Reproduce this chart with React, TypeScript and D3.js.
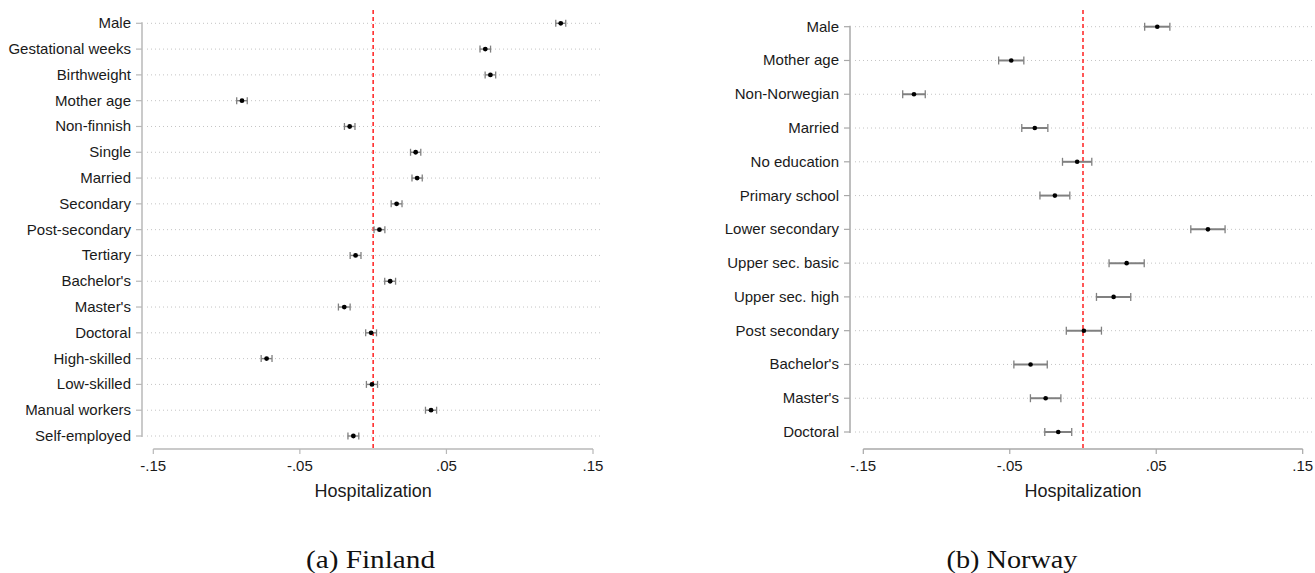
import React from "react";
import * as d3 from "d3";

const finCats = ["Male","Gestational weeks","Birthweight","Mother age","Non-finnish","Single","Married","Secondary","Post-secondary","Tertiary","Bachelor's","Master's","Doctoral","High-skilled","Low-skilled","Manual workers","Self-employed"];
const finEst = [0.128, 0.0765, 0.080, -0.0895, -0.016, 0.029, 0.030, 0.016, 0.0043, -0.012, 0.0116, -0.0197, -0.0014, -0.0727, -0.0008, 0.0395, -0.0135];
const finCI = [0.0034, 0.0036, 0.0036, 0.0036, 0.0036, 0.0035, 0.0035, 0.0037, 0.0037, 0.0037, 0.0037, 0.0040, 0.0037, 0.0037, 0.0038, 0.0038, 0.0037];

const norCats = ["Male","Mother age","Non-Norwegian","Married","No education","Primary school","Lower secondary","Upper sec. basic","Upper sec. high","Post secondary","Bachelor's","Master's","Doctoral"];
const norEst = [0.0507, -0.049, -0.1154, -0.0329, -0.004, -0.0192, 0.0853, 0.0298, 0.0209, 0.0006, -0.0358, -0.0255, -0.0169];
const norCI = [0.0086, 0.0086, 0.0077, 0.0089, 0.0100, 0.0102, 0.0117, 0.0120, 0.0117, 0.0120, 0.0114, 0.0104, 0.0092];

const xTicks = [-0.15, -0.05, 0.05, 0.15];
const tickFmt = (v: number) => (v < 0 ? "-" : "") + d3.format(".2f")(Math.abs(v)).replace(/^0/, "");

const FONT = "'Liberation Sans', Arial, sans-serif";
const TXT = "#1a1a1a";

type PanelProps = {
  cats: string[]; est: number[]; ci: number[];
  x0: number; x1: number; yTop: number; yBot: number;
  axisX: number; gridEnd: number; axisColor: string;
  ciWidth: number; capH: number; dotR: number;
  caption: string; capX: number; capLen: number;
};

function Panel(p: PanelProps) {
  const x = d3.scaleLinear().domain([-0.15, 0.15]).range([p.x0, p.x1]);
  const y = d3.scalePoint<string>().domain(p.cats).range([p.yTop, p.yBot]);
  const axisY = 449;
  return (
    <g>
      {/* gridlines */}
      {p.cats.map((c) => (
        <line key={"g" + c} x1={p.axisX + 5} x2={p.gridEnd} y1={y(c)} y2={y(c)}
          stroke="#c4c4c4" strokeWidth={1} strokeDasharray="1,3" />
      ))}
      {/* y axis */}
      <line x1={p.axisX} x2={p.axisX} y1={p.yTop - 1} y2={p.yBot + 1} stroke={p.axisColor} strokeWidth={1.5} />
      {p.cats.map((c) => (
        <g key={"t" + c}>
          <line x1={p.axisX - 6} x2={p.axisX} y1={y(c)} y2={y(c)} stroke={p.axisColor} strokeWidth={1.2} />
          <text x={p.axisX - 11} y={(y(c) as number) + 5} textAnchor="end" fontSize={15} fontFamily={FONT} fill={TXT}>{c}</text>
        </g>
      ))}
      {/* x axis */}
      <line x1={x(-0.15)} x2={x(0.15)} y1={axisY} y2={axisY} stroke={p.axisColor} strokeWidth={1.5} />
      {xTicks.map((t) => (
        <g key={"x" + t}>
          <line x1={x(t)} x2={x(t)} y1={axisY} y2={axisY + 5} stroke={p.axisColor} strokeWidth={1.2} />
          <text x={x(t)} y={471} textAnchor="middle" fontSize={15} fontFamily={FONT} fill={TXT}>{tickFmt(t)}</text>
        </g>
      ))}
      <text x={x(0)} y={497} textAnchor="middle" fontSize={18} fontFamily={FONT} fill={TXT}>Hospitalization</text>
      {/* zero line */}
      <line x1={x(0)} x2={x(0)} y1={10} y2={axisY} stroke="#ff2020" strokeWidth={1.5} strokeDasharray="4,3" />
      {/* estimates */}
      {p.cats.map((c, i) => {
        const yy = y(c) as number;
        const lo = x(p.est[i] - p.ci[i]);
        const hi = x(p.est[i] + p.ci[i]);
        return (
          <g key={"e" + c}>
            <line x1={lo} x2={hi} y1={yy} y2={yy} stroke="#808080" strokeWidth={p.ciWidth} />
            <line x1={lo} x2={lo} y1={yy - p.capH / 2} y2={yy + p.capH / 2} stroke="#808080" strokeWidth={1.3} />
            <line x1={hi} x2={hi} y1={yy - p.capH / 2} y2={yy + p.capH / 2} stroke="#808080" strokeWidth={1.3} />
            <circle cx={x(p.est[i])} cy={yy} r={p.dotR} fill="#000" />
          </g>
        );
      })}
      <text x={p.capX} y={568} textAnchor="middle" fontSize={26} fontFamily="'Liberation Serif', 'Times New Roman', serif"
        fill="#111" textLength={p.capLen} lengthAdjust="spacingAndGlyphs">{p.caption}</text>
    </g>
  );
}

export default function App() {
  return (
    <svg width={1315} height={573} style={{ position: "absolute", left: 0, top: 0, background: "#fff" }}>
      <rect x={0} y={0} width={1315} height={573} fill="#fff" />
      <Panel cats={finCats} est={finEst} ci={finCI} x0={153.3} x1={593} yTop={23.3} yBot={436}
        axisX={142} gridEnd={601} axisColor="#b8b8b8" ciWidth={1.4} capH={7} dotR={2.4}
        caption="(a) Finland" capX={370.5} capLen={129} />
      <Panel cats={norCats} est={norEst} ci={norCI} x0={863.3} x1={1302.7} yTop={26.7} yBot={432}
        axisX={850} gridEnd={1315} axisColor="#a8a8a8" ciWidth={2} capH={8} dotR={2.3}
        caption="(b) Norway" capX={1012} capLen={131} />
    </svg>
  );
}
